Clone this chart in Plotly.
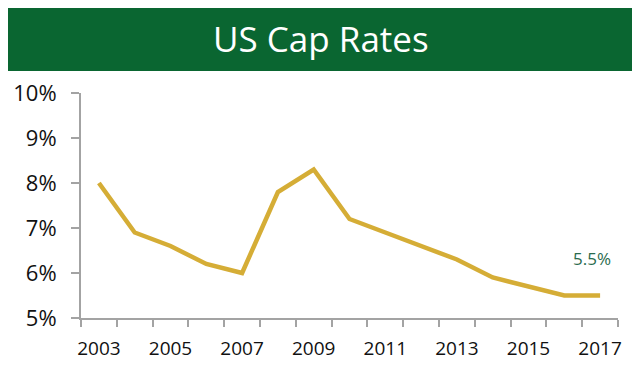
import plotly.graph_objects as go

years = [2003, 2004, 2005, 2006, 2007, 2008, 2009, 2010, 2011, 2012, 2013, 2014, 2015, 2016, 2017]
cap_rates = [8.0, 6.9, 6.6, 6.2, 6.0, 7.8, 8.3, 7.2, 6.9, 6.6, 6.3, 5.9, 5.7, 5.5, 5.5]
x_tick_years = [2003, 2005, 2007, 2009, 2011, 2013, 2015, 2017]
y_ticks = [5, 6, 7, 8, 9, 10]
title_text = "US Cap Rates"
last_label = "5.5%"

FONT = "Open Sans"
GOLD = "#d5ad36"
GREEN = "#0a6631"
AXIS = "#a3a3a3"

fig = go.Figure()
fig.add_trace(go.Scatter(
    x=years, y=cap_rates, mode="lines",
    line=dict(color=GOLD, width=4.5),
    hoverinfo="skip", showlegend=False,
))

# page body adds an 8px offset, so the figure is sized to fit the window
fig.update_layout(
    width=632, height=366,
    margin=dict(l=73, r=22, t=85, b=56, autoexpand=False),
    paper_bgcolor="white", plot_bgcolor="white",
    font=dict(family=FONT, color="#111111"),
    showlegend=False,
)

fig.update_xaxes(
    range=[2002.5, 2017.5], automargin=False,
    tickvals=x_tick_years, ticktext=[str(y) for y in x_tick_years],
    ticks="", showgrid=False, zeroline=False,
    showline=True, linecolor=AXIS, linewidth=2,
    tickfont=dict(size=19, color="#111111"),
    ticklabelstandoff=12,
    minor=dict(tick0=2002.5, dtick=1, ticks="outside", ticklen=7,
               tickcolor=AXIS, tickwidth=2, showgrid=False),
)
fig.update_yaxes(
    range=[5, 10], automargin=False,
    tickvals=y_ticks, ticktext=[f"{v}%" for v in y_ticks],
    ticks="outside", ticklen=8, tickcolor=AXIS, tickwidth=2,
    showgrid=False, zeroline=False,
    showline=True, linecolor=AXIS, linewidth=2,
    tickfont=dict(size=22, color="#111111"),
    ticklabelstandoff=10,
)

# green title banner
fig.add_shape(type="rect", xref="paper", yref="paper",
              x0=-0.1415, x1=1.0298, y0=1.098, y1=1.382,
              fillcolor=GREEN, line=dict(width=0), layer="above")
fig.add_annotation(xref="paper", yref="paper", x=0.447, y=1.244,
                   text=title_text, showarrow=False,
                   font=dict(family=FONT, size=35, color="white"),
                   xanchor="center", yanchor="middle")

# last value label
fig.add_annotation(x=years[-1], y=cap_rates[-1], text=last_label,
                   showarrow=False, xshift=-8, yshift=37,
                   font=dict(family=FONT, size=17, color="#2a6b4e"),
                   xanchor="center", yanchor="middle")

fig.write_html("out.html")
